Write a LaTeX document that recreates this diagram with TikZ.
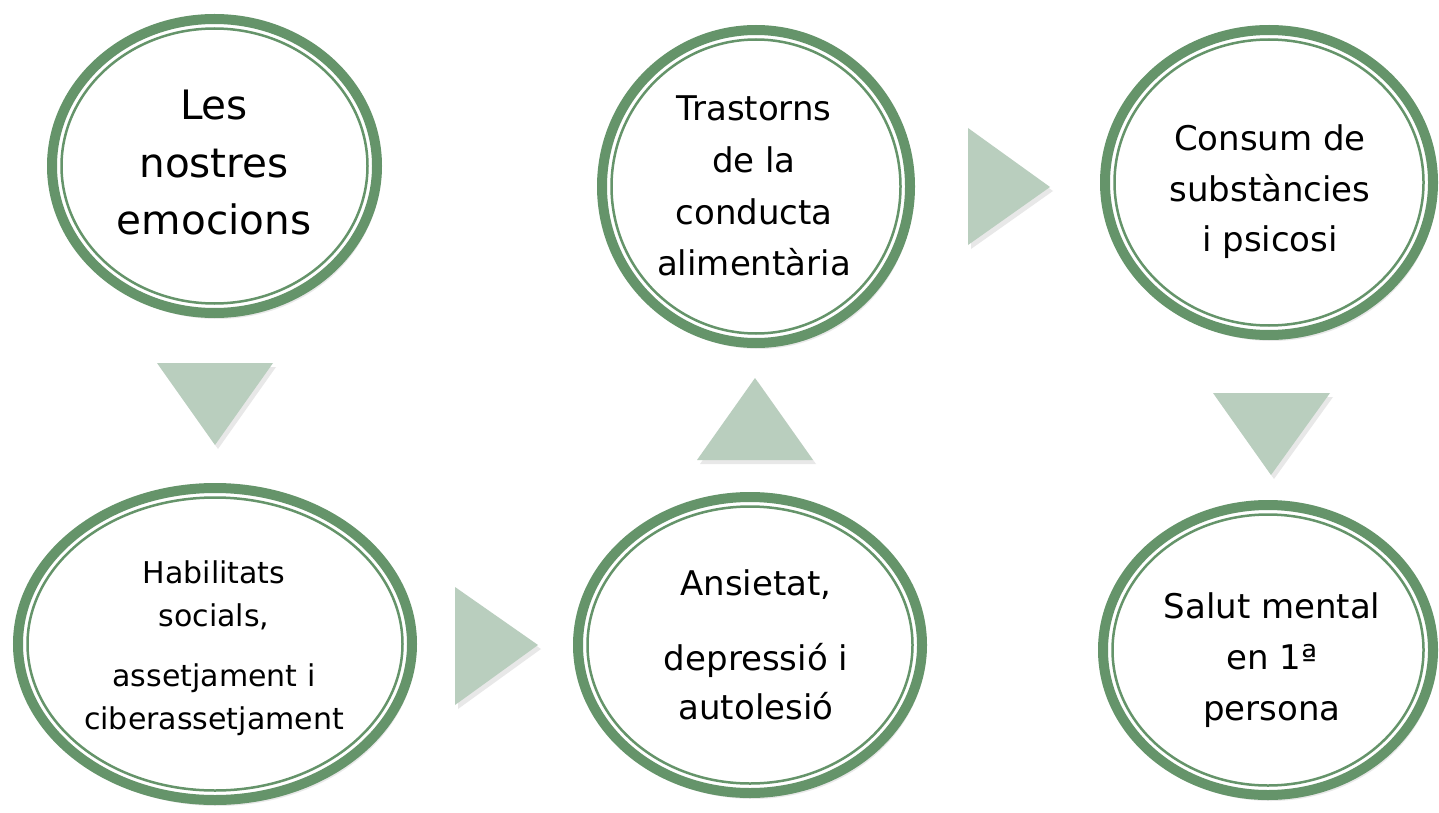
\documentclass[tikz,border=0pt]{standalone}
\usepackage{fontspec}
\setmainfont{DejaVu Sans}
\usetikzlibrary{shapes.geometric,shadows}
\definecolor{ring}{RGB}{101,148,106}
\definecolor{tri}{RGB}{185,206,190}
% #1 name, #2 x, #3 y, #4 outer x radius, #5 outer y radius
\newcommand{\mybub}[5]{%
  \node[bubble, minimum width=2*#4-10, minimum height=2*#5-10] (#1) at (#2,#3) {};
  \draw[inring] (#1.center) ellipse [x radius=#4pt-14.5pt, y radius=#5pt-14.5pt];}
\begin{document}
\begin{tikzpicture}[x=1pt,y=-1pt,
  bubble/.style={ellipse, draw=ring, line width=10pt, fill=white, inner sep=0pt,
    drop shadow={opacity=0.18, shadow xshift=3pt, shadow yshift=-6pt}},
  inring/.style={draw=ring, line width=2.5pt},
  arrowtri/.style={fill=tri, drop shadow={opacity=0.18, shadow xshift=3pt, shadow yshift=-4pt}},
  lbl/.style={align=center, inner sep=0pt, text=black}]
\useasboundingbox (0,0) rectangle (1439,813);
\fill[white] (0,0) rectangle (1439,813);

\mybub{c1}{214.5}{166}{167.5}{152}
\mybub{c2}{215}{644}{202}{161}
\mybub{c3}{750}{645}{177}{153}
\mybub{c4}{756}{186.5}{159}{161.5}
\mybub{c5}{1269}{182.5}{169}{157.5}
\mybub{c6}{1268}{650}{170}{150}

\node[lbl, font=\fontsize{40.5}{57.5}\selectfont] (t1) at (214,163) {Les\\nostres\\emocions};
\node[lbl, font=\fontsize{30}{43}\selectfont] (t2) at (214,648) {Habilitats\\socials,\\[17pt]assetjament i\\ciberassetjament};
\node[lbl, font=\fontsize{34}{49}\selectfont] (t3) at (756,645) {Ansietat,\\[26pt]depressió i\\autolesió};
\node[lbl, font=\fontsize{34}{51.7}\selectfont] (t4) at (754,186) {Trastorns\\de la\\conducta\\alimentària};
\node[lbl, font=\fontsize{34}{50.5}\selectfont] (t5) at (1270,192) {Consum de\\substàncies\\i psicosi};
\node[lbl, font=\fontsize{34}{51}\selectfont] (t6) at (1272,660) {Salut mental\\en 1ª\\persona};

\path[arrowtri] (157,363) -- (273,363) -- (215,445) -- cycle;
\path[arrowtri] (455,587) -- (538,645) -- (455,705) -- cycle;
\path[arrowtri] (697,460) -- (813,460) -- (755,378) -- cycle;
\path[arrowtri] (968,128) -- (1050,187) -- (968,245) -- cycle;
\path[arrowtri] (1213,393) -- (1330,393) -- (1271,475) -- cycle;
\end{tikzpicture}
\end{document}
